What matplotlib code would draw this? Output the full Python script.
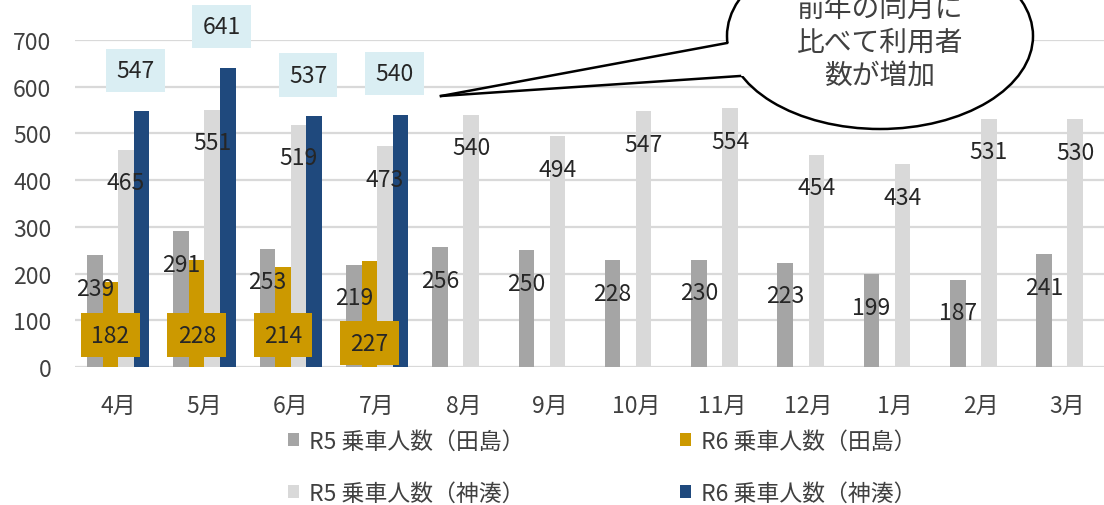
import numpy as np
import matplotlib.pyplot as plt
from matplotlib.patches import Ellipse, Polygon

plt.rcParams['font.family'] = ['Noto Sans CJK JP', 'DejaVu Sans']

months = ['4月', '5月', '6月', '7月', '8月', '9月', '10月', '11月', '12月', '1月', '2月', '3月']
r5_tajima = [239, 291, 253, 219, 256, 250, 228, 230, 223, 199, 187, 241]
r6_tajima = [182, 228, 214, 227] + [np.nan] * 8
r5_konominato = [465, 551, 519, 473, 540, 494, 547, 554, 454, 434, 531, 530]
r6_konominato = [547, 641, 537, 540] + [np.nan] * 8

series = [
    ('R5 乗車人数（田島）', r5_tajima, '#A5A5A5'),
    ('R6 乗車人数（田島）', r6_tajima, '#CC9900'),
    ('R5 乗車人数（神湊）', r5_konominato, '#D9D9D9'),
    ('R6 乗車人数（神湊）', r6_konominato, '#1F497D'),
]

W, H = 1104, 506
fig = plt.figure(figsize=(W / 100, H / 100), dpi=100)
ax = fig.add_axes([75 / W, 1 - 368 / H, 1035.6 / W, 327 / H])

fs = 16.5
txt = '#262626'
x = np.arange(len(months))
w = 0.18
bars = []
for k, (name, vals, col) in enumerate(series):
    b = ax.bar(x + (k - 1.5) * w, vals, w, color=col, label=name, zorder=2)
    bars.append(b)

# plain inside-end labels for the R5 series
for k in (0, 2):
    vals = series[k][1]
    for i, v in enumerate(vals):
        ax.annotate(str(v), (x[i] + (k - 1.5) * w, v), xytext=(0, -33),
                    textcoords='offset pixels', ha='center', va='center',
                    fontsize=fs, color=txt, zorder=4)

# boxed labels for R6 田島 (placed near the base)
tajima_label_y = [68, 68, 68, 51]
for i, v in enumerate(r6_tajima[:4]):
    ax.text(x[i] - 0.5 * w, tajima_label_y[i], str(v), ha='center', va='center',
            fontsize=fs, color=txt, zorder=5,
            bbox=dict(boxstyle='square,pad=0.45', fc='#CC9900', ec='none'))

# boxed labels for R6 神湊 (above the bars)
for i, v in enumerate(r6_konominato[:4]):
    ax.annotate(str(v), (x[i] + 1.5 * w, v + 88), xytext=(-6, 0),
                textcoords='offset pixels', ha='center', va='center',
                fontsize=fs, color=txt, zorder=5, annotation_clip=False,
                bbox=dict(boxstyle='square,pad=0.45', fc='#DAEEF3', ec='none'))

ax.set_xlim(-0.5, len(months) - 0.5)
ax.set_ylim(0, 700)
ax.set_yticks(range(0, 701, 100))
ax.set_xticks(x, months)
ax.tick_params(length=0, labelsize=fs, labelcolor='#404040')
ax.tick_params(axis='y', pad=17)
ax.tick_params(axis='x', pad=19)
ax.grid(axis='y', color='#D9D9D9', lw=1.6, zorder=0)
ax.set_axisbelow(True)
for s in ax.spines.values():
    s.set_visible(False)

# legend: R5 entries in the first column, R6 in the second
order = [0, 2, 1, 3]
fig.legend([bars[i] for i in order], [series[i][0] for i in order],
           ncol=2, loc='center', bbox_to_anchor=(602 / W, 1 - 468 / H),
           frameon=False, fontsize=fs, labelcolor='#404040',
           handlelength=0.5, handleheight=0.5, handletextpad=0.4,
           columnspacing=6.8, labelspacing=1.25)

# speech-bubble callout
def fp(px, py):
    return (px / W, 1 - py / H)

ell = Ellipse(fp(880, 37), 306 / W, 186 / H, transform=fig.transFigure,
              fc='white', ec='black', lw=1.8, zorder=10)
fig.add_artist(ell)
tip = fp(441, 97)
a, b = fp(727, 44), fp(740, 77)
fig.add_artist(Polygon([tip, a, fp(760, 44), fp(760, 77), b], closed=True,
                       transform=fig.transFigure, fc='white', ec='none', zorder=11))
for p in (a, b):
    fig.add_artist(plt.Line2D([tip[0], p[0]], [tip[1], p[1]], transform=fig.transFigure,
                              color='black', lw=1.8, zorder=12))
for line, py in zip(['前年の同月に', '比べて利用者', '数が増加'], [9, 43, 77]):
    fig.text(*fp(880, py), line, ha='center', va='center', fontsize=20,
             color='#404040', zorder=13)

fig.savefig('out.png', dpi=100)
